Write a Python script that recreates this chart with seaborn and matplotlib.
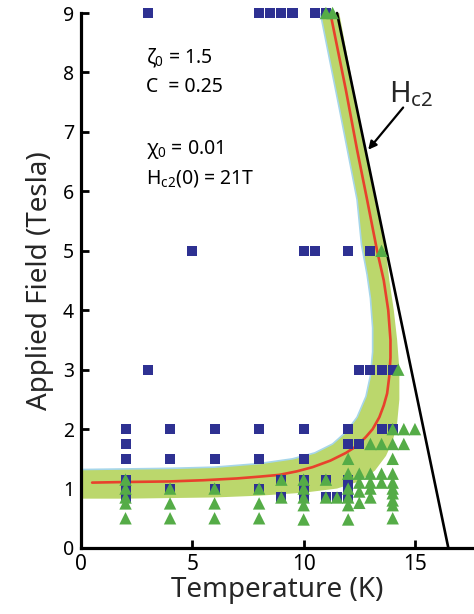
import matplotlib
matplotlib.use('Agg')
import matplotlib.pyplot as plt
import seaborn as sns
import numpy as np
import pandas as pd

# ---------------- data ----------------
# normal-state points (blue squares): temperature (K), field (T)
sq_T = [3, 8, 8.5, 9, 9.5, 10.5, 11,
        5, 10, 10.5, 12, 13,
        3, 12.5, 13, 13.5, 14,
        2, 4, 6, 8, 10, 12, 13.5, 14,
        2, 12, 12.5,
        2, 4, 6, 8, 10,
        2, 9, 10, 11, 12,
        2, 4, 6, 8, 10, 12,
        2, 9, 10, 11, 11.5, 12]
sq_H = [9, 9, 9, 9, 9, 9, 9,
        5, 5, 5, 5, 5,
        3, 3, 3, 3, 3,
        2, 2, 2, 2, 2, 2, 2, 2,
        1.75, 1.75, 1.75,
        1.5, 1.5, 1.5, 1.5, 1.5,
        1.15, 1.15, 1.15, 1.15, 1.15,
        1.0, 1.0, 1.0, 1.0, 1.0, 1.0,
        0.85, 0.85, 0.85, 0.85, 0.85, 0.85]

# superconducting points (green triangles)
tri_T = [11, 11.3,
         13.5,
         14.25,
         14, 14.5, 15,
         13, 13.5, 14, 14.5,
         12, 14,
         12, 12.5, 13, 13.5, 14,
         2, 9, 10, 11, 12.5, 13, 13.5, 14,
         2, 4, 6, 8, 10, 12, 13, 14,
         12.5, 14,
         2, 9, 10, 11, 11.5, 12, 13,
         2, 4, 6, 8, 10, 12, 12.5, 14, 14,
         2, 4, 6, 8, 10, 12, 14]
tri_H = [9, 9,
         5,
         3,
         2, 2, 2,
         1.75, 1.75, 1.75, 1.75,
         1.5, 1.5,
         1.25, 1.25, 1.25, 1.25, 1.25,
         1.15, 1.15, 1.15, 1.15, 1.1, 1.1, 1.1, 1.1,
         1.0, 1.0, 1.0, 1.0, 1.0, 1.0, 1.0, 1.0,
         0.95, 0.92,
         0.85, 0.85, 0.85, 0.85, 0.85, 0.85, 0.85,
         0.75, 0.75, 0.75, 0.75, 0.72, 0.72, 0.76, 0.8, 0.72,
         0.5, 0.5, 0.5, 0.5, 0.48, 0.48, 0.5]

# model curve (red)
fit_T = [0.5, 2, 4, 5.5, 7, 8, 8.9, 9.7, 10.4, 11.2, 11.9, 12.4, 12.8, 13.1,
         13.4, 13.6, 13.75, 13.85, 13.9, 13.9, 13.8, 13.6, 13.3, 12.85, 12.4,
         11.9, 11.2]
fit_H = [1.10, 1.11, 1.12, 1.14, 1.17, 1.20, 1.23, 1.29, 1.36, 1.47, 1.60,
         1.72, 1.87, 2.0, 2.2, 2.4, 2.6, 2.9, 3.2, 3.5, 4.0, 4.5, 5.0, 5.86,
         6.7, 7.7, 9.0]

# uncertainty band boundaries
band_in_T = [0, 2, 4, 6, 8, 9.5, 10.5, 11.3, 11.9, 12.4, 12.8, 13.0, 13.1,
             13.1, 13.0, 12.85, 12.6, 12.4, 11.6, 10.75]
band_in_H = [1.32, 1.33, 1.34, 1.36, 1.42, 1.50, 1.60, 1.75, 1.95, 2.2, 2.55,
             2.9, 3.3, 3.7, 4.2, 4.6, 5.1, 5.86, 7.4, 9.0]
band_out_T = [0, 2, 4, 6, 8, 10, 11.5, 12.5, 13.2, 13.7, 14.0, 14.2, 14.3,
              14.3, 14.2, 14.05, 13.85, 13.7, 13.2, 12.5, 11.6]
band_out_H = [0.83, 0.83, 0.84, 0.85, 0.88, 0.93, 1.0, 1.12, 1.3, 1.55, 1.8,
              2.1, 2.5, 3.0, 3.5, 4.0, 4.5, 5.0, 5.86, 7.2, 9.0]

# Hc2 line
hc2_T = [16.5, 11.5]
hc2_H = [0, 9]

x_ticks = [0, 5, 10, 15]
y_ticks = [0, 1, 2, 3, 4, 5, 6, 7, 8, 9]

# ---------------- style ----------------
sns.set_theme(style='ticks')
plt.rcParams['font.family'] = ['Noto Sans', 'DejaVu Sans']
plt.rcParams['mathtext.fontset'] = 'custom'
plt.rcParams['mathtext.rm'] = 'Noto Sans'
plt.rcParams['mathtext.it'] = 'Noto Sans'
plt.rcParams['mathtext.bf'] = 'Noto Sans'

BLUE = '#2e3192'
GREEN = '#55ac47'
BAND = '#bbd76c'
EDGE = '#a6d6ea'
RED = '#e8412c'

fig = plt.figure(figsize=(4.74, 6.14), dpi=100)
ax = fig.add_axes([0.1709, 0.1075, 0.829, 0.8713])

# band
ax.fill(np.r_[band_in_T, band_out_T[::-1]], np.r_[band_in_H, band_out_H[::-1]],
        color=BAND, lw=0, zorder=1)
ax.plot(band_in_T, band_in_H, color=EDGE, lw=1.2, zorder=1.5)

# Hc2 line
df_hc2 = pd.DataFrame({'T': hc2_T, 'H': hc2_H})
sns.lineplot(data=df_hc2, x='T', y='H', sort=False, estimator=None,
             color='black', lw=1.9, ax=ax, zorder=2, clip_on=False)
# model curve
df_fit = pd.DataFrame({'T': fit_T, 'H': fit_H})
sns.lineplot(data=df_fit, x='T', y='H', sort=False, estimator=None,
             color=RED, lw=1.9, ax=ax, zorder=3)

df_sq = pd.DataFrame({'T': sq_T, 'H': sq_H})
df_tri = pd.DataFrame({'T': tri_T, 'H': tri_H})
sns.scatterplot(data=df_sq, x='T', y='H', marker='s', s=52, color=BLUE,
                edgecolor='none', linewidth=0, ax=ax, zorder=4, clip_on=False)
sns.scatterplot(data=df_tri, x='T', y='H', marker='^', s=80, color=GREEN,
                edgecolor='none', linewidth=0, ax=ax, zorder=5, clip_on=False)

ax.set_xlim(0, 17.65)
ax.set_ylim(0, 9)
ax.set_xticks(x_ticks)
ax.set_yticks(y_ticks)
ax.set_xticklabels([str(v) for v in x_ticks])
ax.set_yticklabels([str(v) for v in y_ticks])
ax.tick_params(direction='in', length=6, width=2, pad=5, colors='black')
ax.tick_params(axis='x', labelsize=15, pad=4)
ax.tick_params(axis='y', labelsize=14)
for side in ['top', 'right']:
    ax.spines[side].set_visible(False)
for side in ['left', 'bottom']:
    ax.spines[side].set_linewidth(2.3)
    ax.spines[side].set_color('black')
ax.set_xlabel('Temperature (K)', fontsize=20, labelpad=1)
ax.set_ylabel('Applied Field (Tesla)', fontsize=20, labelpad=6)

txt = dict(fontsize=14, ha='left', va='center', color='black')
ax.text(2.9, 8.25, r'$\zeta_0$ = 1.5', **txt)
ax.text(2.9, 7.76, 'C  = 0.25', **txt)
ax.text(2.9, 6.70, r'$\chi_0$ = 0.01', **txt)
ax.text(2.9, 6.22, r'H$_{\rm c2}$(0) = 21T', **txt)

ax.text(13.85, 7.5, r'H$_{\rm c2}$', fontsize=21, ha='left', va='baseline')
ax.annotate('', xy=(12.9, 6.7), xytext=(14.47, 7.41),
            arrowprops=dict(arrowstyle='-|>', color='black', lw=1.6,
                            mutation_scale=12, shrinkA=0, shrinkB=0))

fig.savefig('out.png', dpi=100)
